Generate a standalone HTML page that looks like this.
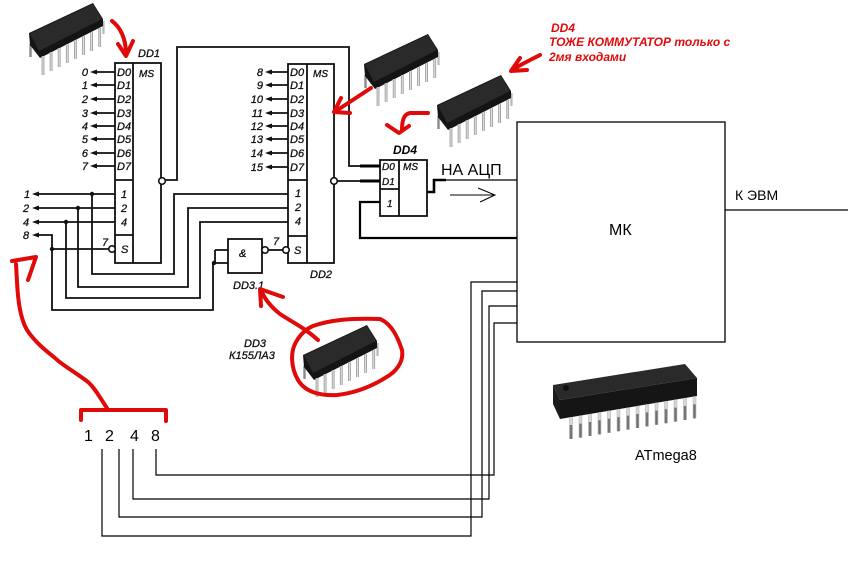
<!DOCTYPE html>
<html><head><meta charset="utf-8">
<style>
html,body{margin:0;padding:0;background:#fff;}
svg{display:block}
.s{font-family:"Liberation Sans",sans-serif;font-style:italic;font-size:11px;fill:#111;stroke:#111;stroke-width:0.3}
.r{font-family:"Liberation Sans",sans-serif;font-style:italic;font-weight:bold;font-size:12px;fill:#e00a0a;stroke:none}
.n{font-family:"Liberation Sans",sans-serif;fill:#000;stroke:none}
</style></head><body>
<svg width="848" height="567" viewBox="0 0 848 567" xmlns="http://www.w3.org/2000/svg">
<defs>
  <g id="dip">
    <path d="M30.5,44v13" stroke="#8a8a8a" stroke-width="2.4"/>
    <path d="M103.5,21v13" stroke="#b8b8b8" stroke-width="2.2"/>
    <polygon points="29,33 93,3 103,19 103,26 40,58 30,45" fill="#141414"/>
    <polygon points="30,33.5 93,4 102,19 39,51" fill="#2a2a2a"/>
    <path d="M43,56v19M51.1,52v19M59.2,48v19M67.3,44v19M75.4,40v19M83.5,36v19M91.6,32v19M99.7,28v19" stroke="#9c9c9c" stroke-width="2.8"/>
    <path d="M43,56v19M51.1,52v19M59.2,48v19M67.3,44v19M75.4,40v19M83.5,36v19M91.6,32v19M99.7,28v19" stroke="#e0e0e0" stroke-width="1.1"/>
  </g>
</defs>
<rect width="848" height="567" fill="#fff"/>

<!-- ========== SCHEMATIC ========== -->
<g stroke="#111" stroke-width="1.8" fill="none">
  <!-- DD1 -->
  <rect x="115" y="63" width="46" height="200"/>
  <path d="M133,63V263M115,180H133M115,235H133"/>
  <path d="M97,72H115M97,85H115M97,99H115M97,113H115M97,126H115M97,139H115M97,153H115M97,166H115"/>
  <!-- DD2 -->
  <rect x="288" y="64" width="46" height="199"/>
  <path d="M307,64V263M288,180H307M288,236H307"/>
  <path d="M272,72H288M272,85H288M272,99H288M272,113H288M272,126H288M272,139H288M272,153H288M272,167H288"/>
  <!-- inputs left -->
  <path d="M39,194H115M39,208H115M39,222H115M39,235H52V310H213V263"/>
  <path d="M92,194V274H174V194H288"/>
  <path d="M78,208V287H188V208H288"/>
  <path d="M66,222V298H200V222H288"/>
  <path d="M52,249H110"/>
  <!-- DD1 output to DD4 D0 -->
  <path d="M165,180H177V47H349V166H380"/>
  <!-- DD2 output to DD4 D1 -->
  <path d="M337,181H380"/>
  <!-- NAND DD3.1 -->
  <rect x="228" y="239" width="34" height="34"/>
  <path d="M213,263H228M215,250H228M215,250V263"/>
  <path d="M268,250H283"/>
  <!-- DD4 -->
  <rect x="380" y="160" width="47" height="56"/>
  <path d="M399,160V216M380,189H399"/>
</g>
<g stroke="#111" fill="#fff" stroke-width="1.6">
  <circle cx="162" cy="181" r="3.3"/>
  <circle cx="334" cy="181" r="3.3"/>
  <circle cx="112" cy="249" r="3.2"/>
  <circle cx="265" cy="250" r="3.2"/>
  <circle cx="286" cy="250" r="3.2"/>
</g>
<g fill="#111" stroke="none">
  <circle cx="92" cy="194" r="2.2"/>
  <circle cx="78" cy="208" r="2.2"/>
  <circle cx="66" cy="222" r="2.2"/>
  <circle cx="52" cy="249" r="2.2"/>
  <circle cx="214" cy="263" r="2.2"/>
  <path d="M90,72l7,-2.5v5zM90,85l7,-2.5v5zM90,99l7,-2.5v5zM90,113l7,-2.5v5zM90,126l7,-2.5v5zM90,139l7,-2.5v5zM90,153l7,-2.5v5zM90,166l7,-2.5v5z"/>
  <path d="M265,72l7,-2.5v5zM265,85l7,-2.5v5zM265,99l7,-2.5v5zM265,113l7,-2.5v5zM265,126l7,-2.5v5zM265,139l7,-2.5v5zM265,153l7,-2.5v5zM265,167l7,-2.5v5z"/>
  <path d="M32,194l7,-2.5v5zM32,208l7,-2.5v5zM32,222l7,-2.5v5zM32,235l7,-2.5v5z"/>
</g>

<g stroke="#000" fill="none">
  <path d="M360,166H380M360,181H380" stroke-width="3"/>
  <path d="M380,202H360V238H517" stroke-width="2.2"/>
  <path d="M427,192H434V180H446" stroke-width="2.6"/>
  <path d="M446,180H517" stroke-width="1.2"/>
  <path d="M450,195H495M478,188L495,195L480,202" stroke-width="1"/>
  <rect x="517" y="122" width="208" height="220" stroke-width="1.3"/>
  <path d="M725,210H848" stroke-width="1.3"/>
  <path d="M517,282H471V536H102V449" stroke-width="1.2"/>
  <path d="M517,291H482V517H119V449" stroke-width="1.2"/>
  <path d="M517,306H489V499H133V449" stroke-width="1.2"/>
  <path d="M517,323H494V475H156V449" stroke-width="1.2"/>
</g>

<!-- schematic text -->
<text class="s" x="138" y="57">DD1</text>
<text class="s" x="139" y="77" style="font-size:10px">MS</text>
<text class="s" x="117" y="76">D0</text>
<text class="s" x="117" y="89">D1</text>
<text class="s" x="117" y="103">D2</text>
<text class="s" x="117" y="117">D3</text>
<text class="s" x="117" y="130">D4</text>
<text class="s" x="117" y="143">D5</text>
<text class="s" x="117" y="157">D6</text>
<text class="s" x="117" y="170">D7</text>
<g text-anchor="end">
<text class="s" x="88" y="76">0</text>
<text class="s" x="88" y="89">1</text>
<text class="s" x="88" y="103">2</text>
<text class="s" x="88" y="117">3</text>
<text class="s" x="88" y="130">4</text>
<text class="s" x="88" y="143">5</text>
<text class="s" x="88" y="157">6</text>
<text class="s" x="88" y="170">7</text>
<text class="s" x="263" y="76">8</text>
<text class="s" x="263" y="89">9</text>
<text class="s" x="263" y="103">10</text>
<text class="s" x="263" y="117">11</text>
<text class="s" x="263" y="130">12</text>
<text class="s" x="263" y="143">13</text>
<text class="s" x="263" y="157">14</text>
<text class="s" x="263" y="171">15</text>
</g>
<text class="s" x="121" y="198">1</text>
<text class="s" x="121" y="212">2</text>
<text class="s" x="121" y="226">4</text>
<text class="s" x="121" y="253">S</text>
<text class="s" x="102" y="246">7</text>
<text class="s" x="24" y="198">1</text>
<text class="s" x="23" y="212">2</text>
<text class="s" x="23" y="226">4</text>
<text class="s" x="23" y="239">8</text>

<text class="s" x="313" y="77" style="font-size:10px">MS</text>
<text class="s" x="290" y="76">D0</text>
<text class="s" x="290" y="89">D1</text>
<text class="s" x="290" y="103">D2</text>
<text class="s" x="290" y="117">D3</text>
<text class="s" x="290" y="130">D4</text>
<text class="s" x="290" y="143">D5</text>
<text class="s" x="290" y="157">D6</text>
<text class="s" x="290" y="171">D7</text>
<text class="s" x="295" y="197">1</text>
<text class="s" x="295" y="211">2</text>
<text class="s" x="295" y="225">4</text>
<text class="s" x="294" y="254">S</text>
<text class="s" x="273" y="245">7</text>
<text class="s" x="310" y="278">DD2</text>
<text class="s" x="239" y="257">&amp;</text>
<text class="s" x="233" y="289">DD3.1</text>
<text class="s" x="244" y="347">DD3</text>
<text class="s" x="229" y="359">К155ЛА3</text>

<text class="s" x="382" y="170" style="font-size:10px">D0</text>
<text class="s" x="382" y="185" style="font-size:10px">D1</text>
<text class="s" x="403" y="170" style="font-size:10px">MS</text>
<text class="s" x="387" y="207" style="font-size:10px">1</text>
<text class="s" x="393" y="154" style="font-weight:bold;font-size:12px;fill:#000;stroke:none">DD4</text>

<text class="n" x="441" y="175" font-size="16">НА АЦП</text>
<text class="n" x="609" y="235" font-size="16">МК</text>
<text class="n" x="735" y="200" font-size="14">К ЭВМ</text>
<text class="n" x="635" y="460" font-size="14.5">ATmega8</text>
<text class="n" x="84" y="441" font-size="16">1</text>
<text class="n" x="105" y="441" font-size="16">2</text>
<text class="n" x="130" y="441" font-size="16">4</text>
<text class="n" x="151" y="441" font-size="16">8</text>

<!-- ========== CHIPS ========== -->
<use href="#dip" x="0" y="0"/>
<use href="#dip" x="335" y="31"/>
<use href="#dip" x="408" y="72"/>
<use href="#dip" x="274" y="322"/>

<!-- ATmega8 chip -->
<g>
  <polygon points="553,385 685,364 697,378 560,400" fill="#2a2a2a"/>
  <polygon points="560,400 697,378 697,396 560,419" fill="#151515"/>
  <polygon points="553,385 560,400 560,419 553,404" fill="#1c1c1c"/>
  <circle cx="566" cy="388" r="3" fill="#111"/>
  <path d="M571,417v22M580.5,415.6v22M590,414v22M599.5,412.4v22M609,410.8v22M618.5,409.2v22M628,407.6v22M637.5,406v22M647,404.4v22M656.5,402.8v22M666,401.2v22M675.5,399.6v22M685,398v22M694.5,396.4v22" stroke="#9a9a9a" stroke-width="3.4"/>
  <path d="M571,417v8M580.5,415.6v8M590,414v8M599.5,412.4v8M609,410.8v8M618.5,409.2v8M628,407.6v8M637.5,406v8M647,404.4v8M656.5,402.8v8M666,401.2v8M675.5,399.6v8M685,398v8M694.5,396.4v8" stroke="#d8d8d8" stroke-width="2.6"/>
  <path d="M571,425v14M580.5,423.6v14M590,422v14M599.5,420.4v14M609,418.8v14M618.5,417.2v14M628,415.6v14M637.5,414v14M647,412.4v14M656.5,410.8v14M666,409.2v14M675.5,407.6v14M685,406v14M694.5,404.4v14" stroke="#6e6e6e" stroke-width="1.6"/>
</g>

<!-- ========== RED ANNOTATIONS ========== -->
<g stroke="#e00a0a" stroke-width="4" fill="none" stroke-linecap="round" stroke-linejoin="round">
  <path d="M112,21C120,27 126,38 126,54"/>
  <path d="M118,44L126,56L133,41"/>
  <path d="M371,88L336,111"/>
  <path d="M350,113L334,112L341,98"/>
  <path d="M540,55C530,60 520,65 512,70"/>
  <path d="M527,70L511,71L520,58"/>
  <path d="M428,113L410,113C404,114 402,120 402,130"/>
  <path d="M387,125L399,133L409,126"/>
  <path d="M313,326C330,320 350,318 380,319C392,324 398,338 402,350C404,362 396,372 385,378C372,386 355,393 337,395C320,396 305,392 298,380C291,368 290,352 296,342C300,335 306,329 313,326Z"/>
  <path d="M318,340C305,328 292,322 280,314C270,306 264,298 261,290"/>
  <path d="M283,297L260,289L261,306"/>
  <path d="M107,408C100,398 95,388 88,382C75,372 62,365 55,358C45,350 35,342 27,330C20,318 18,300 17,282L16,264"/>
  <path d="M12,261L36,257L28,280"/>
  <path d="M81,420V410H166V421"/>
</g>

<text class="r" x="551" y="32">DD4</text>
<text class="r" x="549" y="46">ТОЖЕ КОММУТАТОР только с</text>
<text class="r" x="549" y="61">2мя входами</text>
</svg>
</body></html>
